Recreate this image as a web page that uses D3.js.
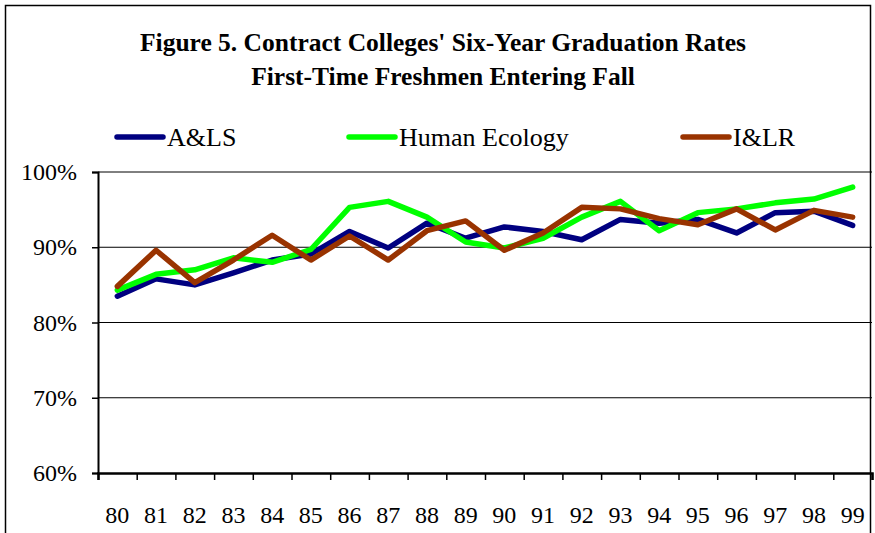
<!DOCTYPE html>
<html>
<head>
<meta charset="utf-8">
<script src="https://cdn.jsdelivr.net/npm/d3@7"></script>
<style>
  body { margin: 0; background: #fff; }
  svg text { font-family: "Liberation Serif", "Times New Roman", serif; fill: #000; }
</style>
</head>
<body>
<svg width="875" height="533"></svg>
<script>
// chart data
let years = ["80", "81", "82", "83", "84", "85", "86", "87", "88", "89",
             "90", "91", "92", "93", "94", "95", "96", "97", "98", "99"];
let als = [83.5, 85.8, 85.0, 86.6, 88.3, 89.1, 92.1, 89.9, 93.2, 91.2,
           92.7, 92.1, 91.0, 93.7, 93.2, 93.7, 91.9, 94.6, 94.8, 92.9];
let humanEcology = [84.3, 86.4, 87.0, 88.6, 88.0, 89.7, 95.3, 96.1, 94.0, 90.7,
                    89.9, 91.2, 94.0, 96.1, 92.2, 94.6, 95.1, 95.9, 96.4, 98.0];
let ilr = [84.8, 89.6, 85.3, 88.3, 91.6, 88.3, 91.5, 88.3, 92.2, 93.5,
           89.6, 91.9, 95.3, 95.1, 93.8, 93.0, 95.1, 92.3, 94.9, 94.0];
let seriesNames = ["A&LS", "Human Ecology", "I&LR"];
let seriesColors = ["#000080", "#00ff00", "#993300"];
let yTicks = [60, 70, 80, 90, 100];

let svg = d3.select("svg");
let width = svg.attr("width");
let height = svg.attr("height");

// outer frame
svg.append("rect")
  .attr("x", 5.5).attr("y", 5.5)
  .attr("width", 865).attr("height", 560)
  .attr("fill", "#fff")
  .attr("stroke", "#000")
  .attr("stroke-width", 1.5);

// title
svg.append("text")
  .attr("x", 443).attr("y", 51)
  .attr("text-anchor", "middle")
  .style("font-size", "25.5px").style("font-weight", "bold")
  .text("Figure 5. Contract Colleges' Six-Year Graduation Rates");
svg.append("text")
  .attr("x", 443).attr("y", 85)
  .attr("text-anchor", "middle")
  .style("font-size", "25.5px").style("font-weight", "bold")
  .text("First-Time Freshmen Entering Fall");

let xScale = d3.scaleBand().domain(years).range([98, 872]);
let yScale = d3.scaleLinear().domain([60, 100]).range([473, 172]);

// gridlines
svg.append("g")
  .selectAll("line")
  .data(yTicks.slice(1))
  .enter()
  .append("line")
  .attr("x1", 98).attr("x2", 872)
  .attr("y1", function (d) { return yScale(d); })
  .attr("y2", function (d) { return yScale(d); })
  .attr("stroke", "#000").attr("stroke-width", 1);

// y axis
let yAxis = svg.append("g")
  .attr("transform", "translate(98, 0)")
  .call(d3.axisLeft(yScale).tickValues(yTicks).tickSize(6).tickPadding(15)
    .tickFormat(function (d) { return d + "%"; }));
yAxis.select(".domain").attr("stroke-width", 2);
yAxis.selectAll("line").attr("stroke-width", 1.5);
yAxis.selectAll("text").style("font-size", "24px").attr("font-family", null);

// x axis: tick marks on category edges, labels in the middle
let edgeScale = d3.scaleLinear().domain([0, years.length]).range([98, 872]);
let xTicks = svg.append("g")
  .attr("transform", "translate(0, 473)")
  .call(d3.axisBottom(edgeScale).ticks(years.length).tickSize(7).tickFormat(""));
xTicks.select(".domain").attr("stroke-width", 2.5);
xTicks.selectAll("line").attr("stroke-width", 1.5);

let xAxis = svg.append("g")
  .attr("transform", "translate(0, 473)")
  .call(d3.axisBottom(xScale).tickSize(0).tickPadding(33));
xAxis.select(".domain").remove();
xAxis.selectAll("text").style("font-size", "24px").attr("font-family", null);

// lines
let line = d3.line()
  .x(function (d, i) { return xScale(years[i]) + xScale.bandwidth() / 2; })
  .y(function (d) { return yScale(d); });

[als, humanEcology, ilr].forEach(function (values, k) {
  svg.append("path")
    .datum(values)
    .attr("d", line)
    .attr("fill", "none")
    .attr("stroke", seriesColors[k])
    .attr("stroke-width", 5.5)
    .attr("stroke-linejoin", "round")
    .attr("stroke-linecap", "round");
});

// legend
let legendX = [115, 347, 681];
let legend = svg.append("g")
  .selectAll("g")
  .data(seriesNames)
  .enter()
  .append("g")
  .attr("transform", function (d, i) { return "translate(" + legendX[i] + ", 137)"; });
legend.append("line")
  .attr("x1", 2).attr("x2", 48)
  .attr("stroke", function (d, i) { return seriesColors[i]; })
  .attr("stroke-width", 5.5)
  .attr("stroke-linecap", "round");
legend.append("text")
  .attr("x", 52).attr("y", 9)
  .style("font-size", "26px")
  .text(function (d) { return d; });
</script>
</body>
</html>
